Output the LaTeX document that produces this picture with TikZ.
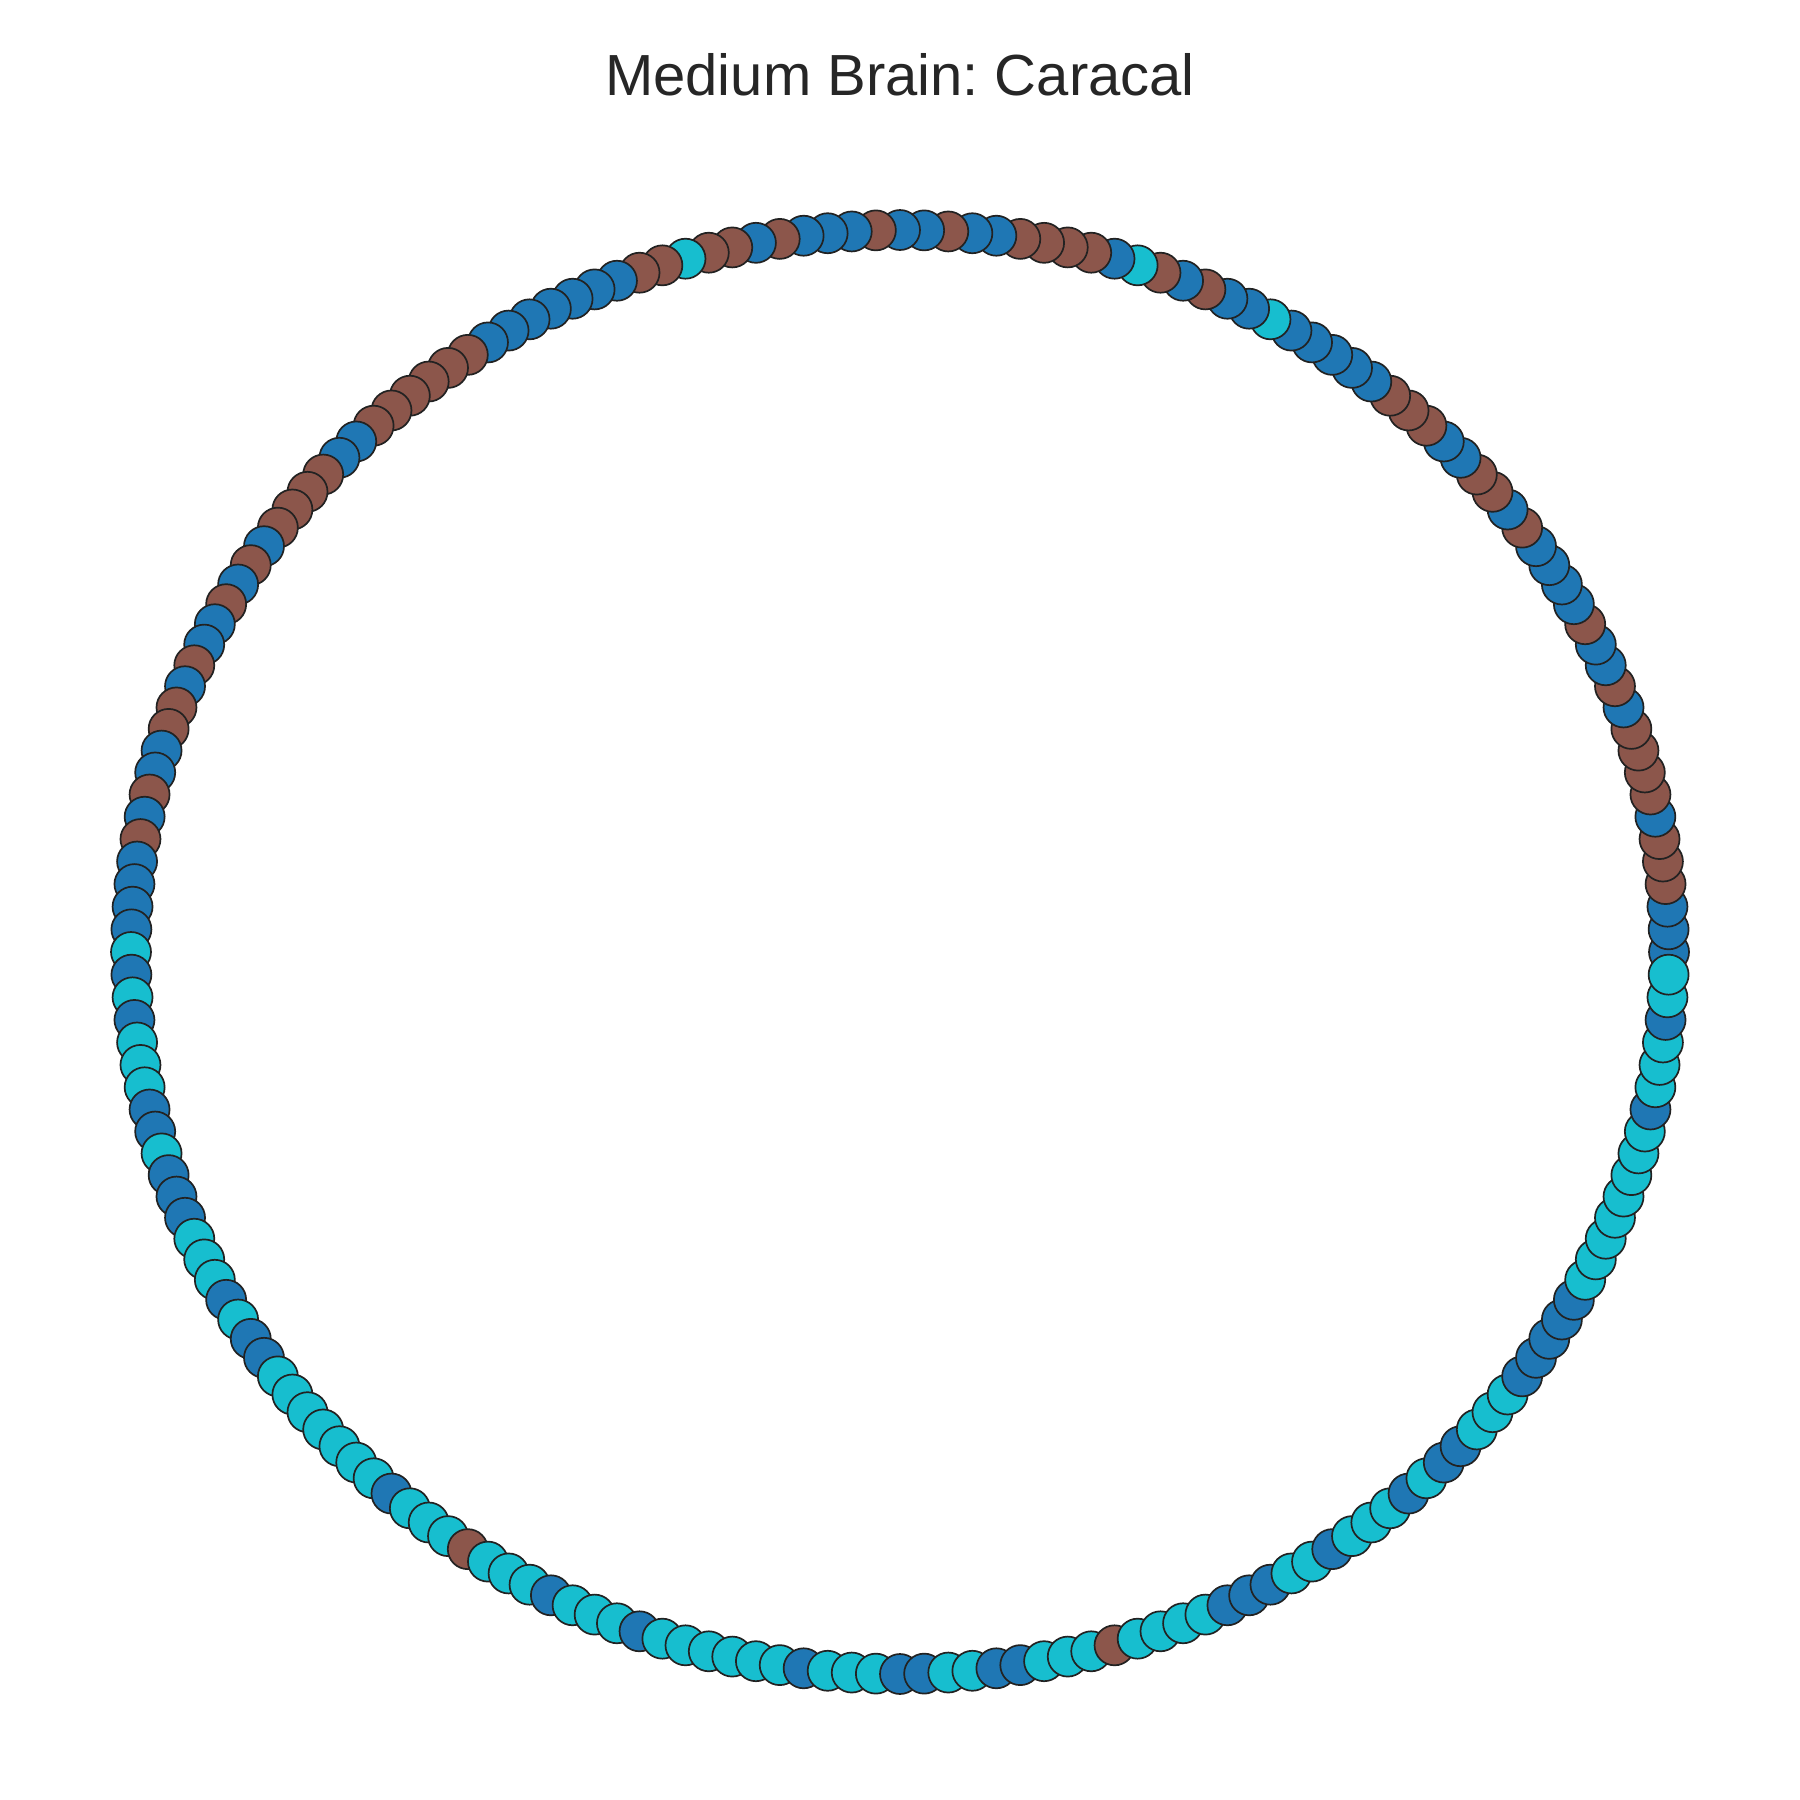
\documentclass[tikz,border=0pt]{standalone}
\usepackage{fontspec}
\setmainfont{Liberation Sans}
\usepackage{tikz}
\usepackage{xcolor}
\usetikzlibrary{positioning}
\frenchspacing
\definecolor{tabb}{HTML}{1F77B4}
\definecolor{tabr}{HTML}{8C564B}
\definecolor{tabc}{HTML}{17BECF}
\definecolor{edgek}{HTML}{222222}
\definecolor{titlek}{HTML}{262626}
\tikzset{rdot/.style={inner sep=0pt, circle, minimum size=4mm, line width=0.17mm, draw=edgek}}
\tikzset{ttl/.style={inner sep=0pt, text=titlek, font=\fontsize{16.5}{20}\selectfont}}

\begin{document}
\begin{tikzpicture}[x=0.1mm, y=-0.1mm]
    \useasboundingbox (0, 0) rectangle (1800, 1800);
    \node[ttl, anchor=base] (title) at (900, 96) {Medium Brain: Caracal};
    \foreach \c [count=\i from 0] in {
        b,b,b,r,r,r,b,r,r,r, r,b,r,b,b,r,b,b,b,b, r,b,r,r,b,b,r,r,r,b, b,b,b,b,c,b,b,r,b,r,
        c,b,r,r,r,r,b,b,r,b, b,r,b,b,b,r,b,r,r,c, r,r,b,b,b,b,b,b,b,r, r,r,r,r,r,b,b,r,r,r,
        r,b,r,b,r,b,b,r,b,r, r,b,b,r,b,r,b,b,b,b, c,b,c,b,c,c,c,b,b,c, b,b,b,c,c,c,b,c,b,b,
        c,c,c,c,c,c,c,b,c,c, c,r,c,c,c,b,c,c,c,b, c,c,c,c,c,c,b,c,c,c, b,b,c,c,b,b,c,c,c,r,
        c,c,c,c,b,b,b,c,c,b, c,c,c,b,c,b,b,c,c,c, b,b,b,b,b,c,c,c,c,c, c,c,c,b,c,c,c,b,c,c}
    {
        \node[rdot, fill=tab\c] (n\i) at ({900 + 769*cos(1.8*\i)}, {952 - 722*sin(1.8*\i)}) {};
    }
\end{tikzpicture}
\end{document}
